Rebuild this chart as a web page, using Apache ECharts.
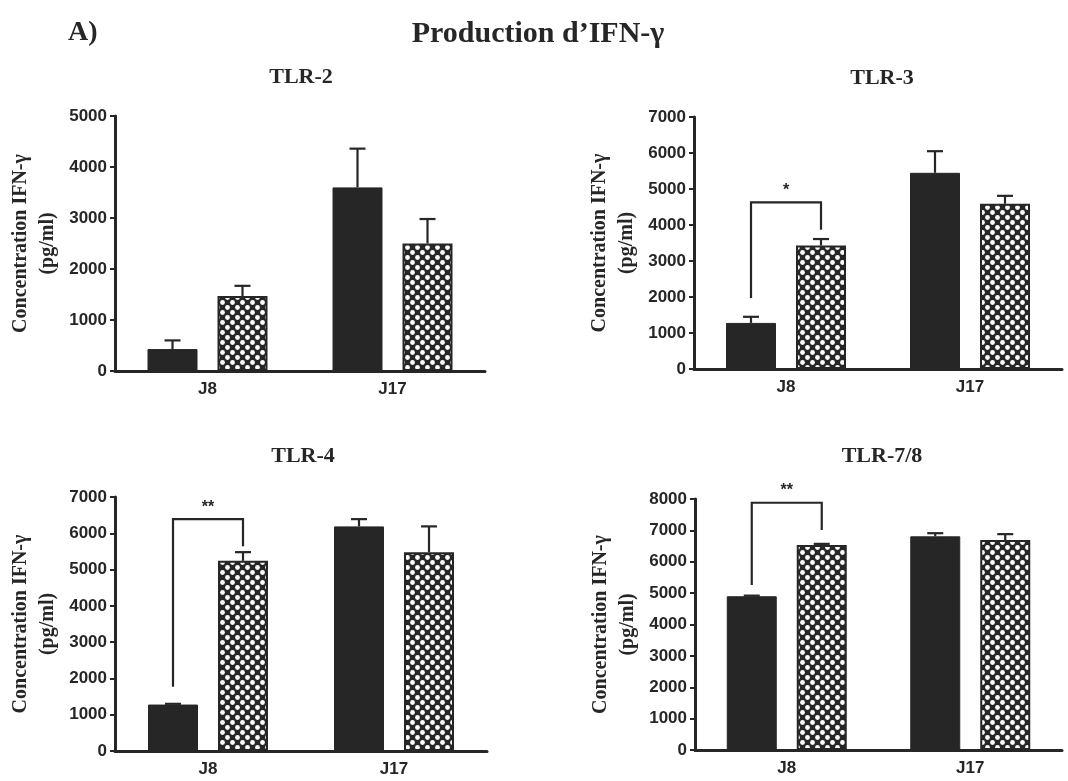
<!DOCTYPE html>
<html>
<head>
<meta charset="utf-8">
<script src="https://cdn.jsdelivr.net/npm/echarts@6/dist/echarts.min.js"></script>
<style>
  html, body { margin: 0; padding: 0; background: #fff; }
  #chart { width: 1068px; height: 781px; }
</style>
</head>
<body>
<div id="chart"></div>
<script>
const categories = ['J8', 'J17'];
const panelTitles = ['TLR-2', 'TLR-3', 'TLR-4', 'TLR-7/8'];
const yMax = [5000, 7000, 7000, 8000];

// black bars + SEM
const blackValues = [[430, 3600], [1280, 5450], [1280, 6190], [4900, 6810]];
const blackErrors = [[170, 760], [170, 600], [20, 200], [20, 100]];
// checkered bars + SEM
const patternValues = [[1470, 2500], [3430, 4590], [5240, 5480], [6530, 6690]];
const patternErrors = [[200, 480], [180, 220], [240, 710], [40, 190]];

// significance brackets on J8: [panel, left leg start, top, right leg end, label]
const brackets = [
  [1, 1970, 4630, 3870, '*'],
  [2, 1770, 6390, 5640, '**'],
  [3, 5260, 7880, 7010, '**'],
];

const INK = '#262626';
const BAR_W = 50;
const OFFSET = 35;

const makePattern = () => {
  const c = document.createElement('canvas');
  c.width = 10; c.height = 10;
  const ctx = c.getContext('2d');
  ctx.fillStyle = INK;
  ctx.fillRect(0, 0, 10, 10);
  ctx.fillStyle = '#fff';
  ctx.beginPath(); ctx.arc(2.5, 2.5, 2.4, 0, Math.PI * 2); ctx.fill();
  ctx.beginPath(); ctx.arc(7.5, 7.5, 2.4, 0, Math.PI * 2); ctx.fill();
  return c;
};
const checker = { image: makePattern(), repeat: 'repeat' };

const grids = [
  { left: 115, top: 116, width: 370, height: 255 },
  { left: 694, top: 117, width: 368, height: 252 },
  { left: 115, top: 497, width: 372, height: 254 },
  { left: 695, top: 499, width: 367, height: 251 },
];

const errorSeries = (i, values, errors, off) => ({
  type: 'custom',
  xAxisIndex: i,
  yAxisIndex: i,
  clip: false,
  z: 3,
  data: values.map((v, k) => [k, v, errors[k]]),
  renderItem: (params, api) => {
    const base = api.coord([api.value(0), api.value(1)]);
    const top = api.coord([api.value(0), api.value(1) + api.value(2)]);
    const cx = base[0] + off;
    const style = { stroke: INK, lineWidth: 2.2 };
    return {
      type: 'group',
      children: [
        { type: 'line', shape: { x1: cx, y1: base[1], x2: cx, y2: top[1] }, style },
        { type: 'line', shape: { x1: cx - 8, y1: top[1], x2: cx + 8, y2: top[1] }, style },
      ],
    };
  },
});

const bracketSeries = (b) => ({
  type: 'custom',
  xAxisIndex: b[0],
  yAxisIndex: b[0],
  clip: false,
  z: 4,
  data: [[0, b[1], b[2], b[3]]],
  renderItem: (params, api) => {
    const p1 = api.coord([api.value(0), api.value(1)]);
    const pTop = api.coord([api.value(0), api.value(2)]);
    const p2 = api.coord([api.value(0), api.value(3)]);
    const xl = p1[0] - OFFSET, xr = p1[0] + OFFSET;
    return {
      type: 'group',
      children: [
        {
          type: 'polyline',
          shape: { points: [[xl, p1[1]], [xl, pTop[1]], [xr, pTop[1]], [xr, p2[1]]] },
          style: { stroke: INK, lineWidth: 2.2, fill: null },
        },
        {
          type: 'text',
          x: p1[0], y: pTop[1] - 4,
          style: { text: b[4], textAlign: 'center', textVerticalAlign: 'bottom', font: 'bold 16px "Liberation Sans"', fill: INK },
        },
      ],
    };
  },
});

const series = [];
grids.forEach((g, i) => {
  series.push({
    type: 'bar', xAxisIndex: i, yAxisIndex: i, barWidth: BAR_W, barGap: '40%',
    itemStyle: { color: INK, borderColor: INK, borderWidth: 1 },
    data: blackValues[i],
  });
  series.push({
    type: 'bar', xAxisIndex: i, yAxisIndex: i, barWidth: BAR_W, barGap: '40%',
    itemStyle: { color: checker, borderColor: INK, borderWidth: 2 },
    data: patternValues[i],
  });
  series.push(errorSeries(i, blackValues[i], blackErrors[i], -OFFSET));
  series.push(errorSeries(i, patternValues[i], patternErrors[i], OFFSET));
});
brackets.forEach((b) => series.push(bracketSeries(b)));

const axisFont = { fontFamily: 'Liberation Sans', fontWeight: 'bold', fontSize: 17, color: INK };

const option = {
  animation: false,
  backgroundColor: '#fff',
  title: [
    { text: 'A)', left: 63, top: 14, textStyle: { fontFamily: 'Liberation Serif', fontWeight: 'bold', fontSize: 28, color: INK } },
    { text: 'Production d’IFN-γ', left: 533, top: 14, textAlign: 'center', textStyle: { fontFamily: 'Liberation Serif', fontWeight: 'bold', fontSize: 30, color: INK } },
    ...panelTitles.map((t, i) => ({
      text: t,
      left: [296, 877, 298, 877][i],
      top: [61, 62, 440, 440][i],
      textAlign: 'center',
      textStyle: { fontFamily: 'Liberation Serif', fontWeight: 'bold', fontSize: 22, color: INK },
    })),
  ],
  grid: grids,
  xAxis: grids.map((g, i) => ({
    type: 'category', gridIndex: i, data: categories,
    axisLine: { lineStyle: { color: INK, width: 3 } },
    axisTick: { alignWithLabel: true, length: 7, lineStyle: { color: INK, width: 2 } },
    axisLabel: { ...axisFont, margin: 10 },
  })),
  yAxis: grids.map((g, i) => ({
    type: 'value', gridIndex: i, min: 0, max: yMax[i], interval: 1000,
    name: 'Concentration IFN-γ\n(pg/ml)',
    nameLocation: 'middle', nameRotate: 90, nameGap: 54,
    nameTextStyle: { fontFamily: 'Liberation Serif', fontWeight: 'bold', fontSize: 20, color: INK, lineHeight: 27 },
    axisLine: { show: true, lineStyle: { color: INK, width: 3 } },
    axisTick: { show: true, length: 5, lineStyle: { color: INK, width: 2 } },
    splitLine: { show: false },
    axisLabel: { ...axisFont, margin: 8, formatter: (v) => String(v) },
  })),
  series,
};

const chart = echarts.init(document.getElementById('chart'));
chart.setOption(option);
</script>
</body>
</html>
